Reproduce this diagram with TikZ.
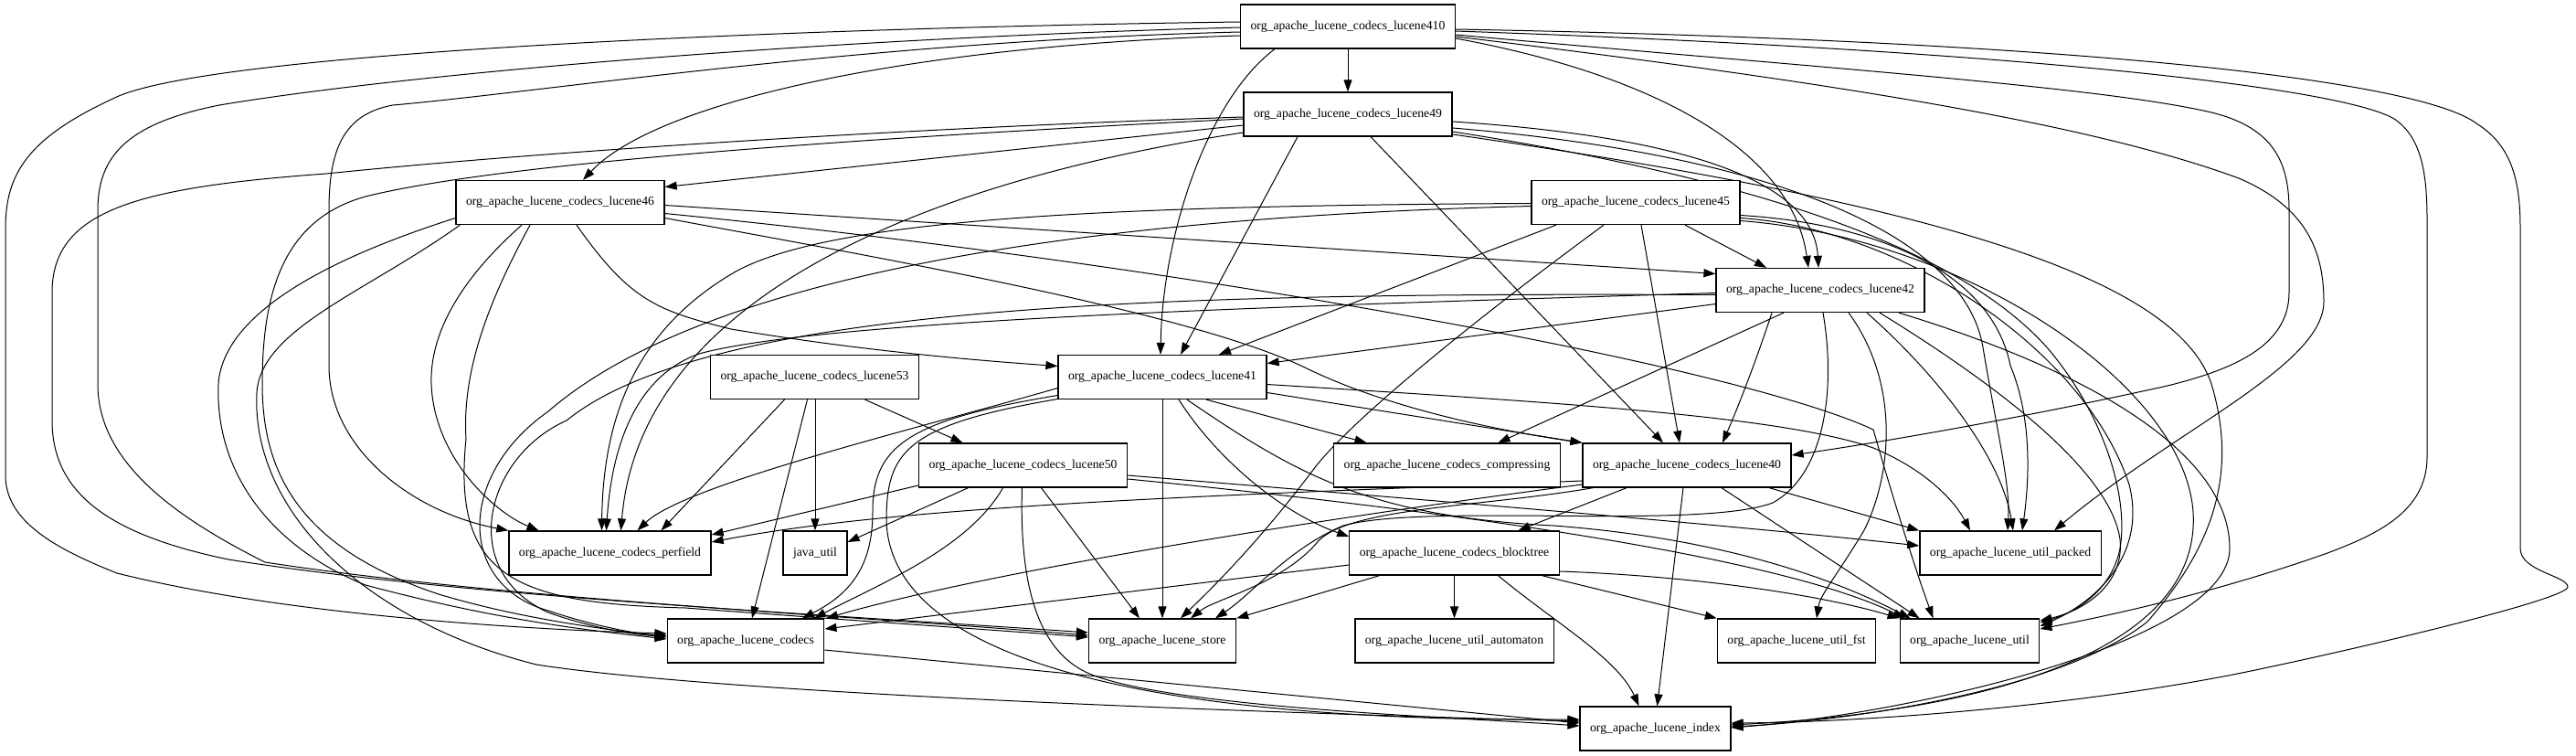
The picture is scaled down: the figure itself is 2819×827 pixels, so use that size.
\documentclass[tikz,border=0pt]{standalone}
\usepackage{fontspec}
\setmainfont{Liberation Serif}
\usetikzlibrary{arrows.meta,calc,backgrounds}
\begin{document}
\begin{tikzpicture}[x=1pt,y=-1pt,
 pkg/.style={draw,line width=1.3pt,fill=white,rectangle,minimum height=48pt,inner xsep=11pt,inner ysep=0pt,font=\fontsize{13.7}{16}\selectfont},
 dep/.style={line width=1pt,-{Triangle[length=13pt,width=9pt]}}]
\useasboundingbox (0,0) rectangle (2819,827);
\node[pkg] (L410) at (1475,29) {org\_apache\_lucene\_codecs\_lucene410};
\node[pkg] (L49) at (1475,125) {org\_apache\_lucene\_codecs\_lucene49};
\node[pkg] (L46) at (613,221.5) {org\_apache\_lucene\_codecs\_lucene46};
\node[pkg] (L45) at (1790,221.5) {org\_apache\_lucene\_codecs\_lucene45};
\node[pkg] (L42) at (1992,317.5) {org\_apache\_lucene\_codecs\_lucene42};
\node[pkg] (L53) at (891.5,412.5) {org\_apache\_lucene\_codecs\_lucene53};
\node[pkg] (L41) at (1272,412.5) {org\_apache\_lucene\_codecs\_lucene41};
\node[pkg] (L50) at (1119.5,509) {org\_apache\_lucene\_codecs\_lucene50};
\node[pkg] (comp) at (1583.5,509) {org\_apache\_lucene\_codecs\_compressing};
\node[pkg] (L40) at (1846,509) {org\_apache\_lucene\_codecs\_lucene40};
\node[pkg] (perf) at (667.5,605) {org\_apache\_lucene\_codecs\_perfield};
\node[pkg] (jutil) at (892,605) {java\_util};
\node[pkg] (btree) at (1591.5,605) {org\_apache\_lucene\_codecs\_blocktree};
\node[pkg] (packed) at (2200,605) {org\_apache\_lucene\_util\_packed};
\node[pkg] (codecs) at (816,701) {org\_apache\_lucene\_codecs};
\node[pkg] (store) at (1272,701) {org\_apache\_lucene\_store};
\node[pkg] (auto) at (1591.5,701) {org\_apache\_lucene\_util\_automaton};
\node[pkg] (fst) at (1966,701) {org\_apache\_lucene\_util\_fst};
\node[pkg] (util) at (2155.5,701) {org\_apache\_lucene\_util};
\node[pkg] (index) at (1811.5,797) {org\_apache\_lucene\_index};
\begin{scope}[on background layer]
% lucene410
\draw[dep] (L410.south) -- (L49.north);
\draw[dep] ($(L410.west)+(0,10)$) .. controls (1000,50) and (720,110) .. ($(L46.north)+(25,0)$);
\draw[dep] ($(L410.south)+(-80,0)$) .. controls (1320,110) and (1272,260) .. ($(L41.north)+(-2,0)$);
\draw[dep] ($(L410.east)+(0,13)$) .. controls (1800,80) and (1960,160) .. ($(L42.north)+(-13,0)$);
\draw[dep] ($(L410.east)+(0,9)$) .. controls (2000,75) and (2300,95) .. (2420,123) .. controls (2490,140) and (2505,180) .. (2505,230) -- (2505,320) .. controls (2505,380) and (2440,405) .. (2372,422) .. controls (2200,460) and (2050,485) .. ($(L40.east)+(0,-11)$);
\draw[dep] ($(L410.east)+(0,11)$) .. controls (2050,95) and (2300,140) .. (2450,195) .. controls (2520,225) and (2543,270) .. (2543,330) .. controls (2543,400) and (2380,470) .. ($(packed.north)+(48,0)$);
\draw[dep] ($(L410.east)+(0,5)$) .. controls (2200,55) and (2560,95) .. (2620,130) .. controls (2650,150) and (2656,190) .. (2656,240) -- (2656,500) .. controls (2656,560) and (2600,585) .. (2547,605) .. controls (2420,650) and (2300,675) .. ($(util.east)+(0,-13)$);
\draw[dep] ($(L410.east)+(0,3)$) .. controls (2300,45) and (2650,90) .. (2710,135) .. controls (2750,160) and (2758,200) .. (2758,250) -- (2758,600) .. controls (2758,625) and (2810,630) .. (2810,642) .. controls (2810,655) and (2600,705) .. (2482,730) .. controls (2300,770) and (2050,790) .. ($(index.east)+(0,-6)$);
\draw[dep] ($(L410.west)+(0,-5)$) .. controls (900,30) and (250,55) .. (130,105) .. controls (30,150) and (6,190) .. (6,250) -- (6,520) .. controls (6,570) and (60,600) .. (128,627) .. controls (300,670) and (550,688) .. ($(codecs.west)+(0,-8)$);
\draw[dep] ($(L410.west)+(0,1)$) .. controls (900,42) and (450,80) .. (240,115) .. controls (140,135) and (107,170) .. (107,230) -- (107,420) .. controls (107,500) and (180,560) .. (290,615) .. controls (550,655) and (950,675) .. ($(store.west)+(0,-6)$);
\draw[dep] ($(L410.west)+(0,6)$) .. controls (950,45) and (600,100) .. (430,115) .. controls (375,125) and (360,165) .. (360,230) -- (360,400) .. controls (360,490) and (450,560) .. (perf.north west);
% lucene49
\draw[dep] ($(L49.west)+(0,12)$) -- ($(L46.east)+(0,-17)$);
\draw[dep] ($(L49.south)+(-55,0)$) -- ($(L41.north)+(20,0)$);
\draw[dep] ($(L49.south)+(25,0)$) -- ($(L40.north)+(-26,0)$);
\draw[dep] ($(L49.east)+(0,8)$) .. controls (1850,150) and (1985,200) .. ($(L42.north)+(-2,0)$);
\draw[dep] ($(L49.west)+(0,3)$) .. controls (1000,140) and (600,165) .. (357,190) .. controls (150,205) and (57,230) .. (57,320) -- (57,460) .. controls (57,540) and (120,585) .. (250,612) .. controls (500,652) and (900,672) .. ($(store.west)+(0,-9)$);
\draw[dep] ($(L49.west)+(0,5)$) .. controls (1000,148) and (560,175) .. (400,215) .. controls (310,240) and (287,320) .. (287,420) .. controls (287,520) and (330,600) .. (480,650) .. controls (580,680) and (680,690) .. ($(codecs.west)+(0,-4)$);
\draw[dep] ($(L49.west)+(0,20)$) .. controls (1000,200) and (700,330) .. ($(perf.north)+(12,0)$);
\draw[dep] ($(L49.east)+(0,15)$) .. controls (1950,170) and (2150,260) .. (2170,380) .. controls (2185,470) and (2200,530) .. ($(packed.north)+(-3,0)$);
\draw[dep] ($(L49.east)+(0,19)$) .. controls (1950,200) and (2150,280) .. (2240,380) .. controls (2300,450) and (2330,540) .. (2320,600) .. controls (2310,650) and (2265,672) .. ($(util.east)+(0,-20)$);
\draw[dep] ($(L49.east)+(0,22)$) .. controls (2100,220) and (2380,300) .. (2420,420) .. controls (2450,520) and (2420,600) .. (2350,680) .. controls (2250,760) and (2000,790) .. ($(index.east)+(0,-2)$);
% lucene46
\draw[dep] ($(L46.east)+(0,3)$) -- ($(L42.west)+(0,-18)$);
\draw[dep] ($(L46.east)+(0,12)$) .. controls (1300,290) and (1900,400) .. (2050,470) .. controls (2070,540) and (2095,620) .. ($(util.north)+(-40,0)$);
\draw[dep] ($(L46.east)+(0,17)$) .. controls (950,280) and (1300,340) .. (1430,403) .. controls (1500,437) and (1600,465) .. (L40.north west);
\draw[dep] ($(L46.south)+(18,0)$) .. controls (690,330) and (720,340) .. (800,360) .. controls (950,385) and (1080,395) .. ($(L41.west)+(0,-12)$);
\draw[dep] ($(L46.west)+(0,17)$) .. controls (400,270) and (245,330) .. (239,420) .. controls (235,520) and (300,600) .. (400,640) .. controls (550,680) and (650,690) .. ($(codecs.west)+(0,-2)$);
\draw[dep] ($(L46.south west)+(5,0)$) .. controls (400,320) and (285,360) .. (281,430) .. controls (275,560) and (400,680) .. (587,727) .. controls (800,760) and (1400,780) .. ($(index.west)+(0,-8)$);
\draw[dep] ($(L46.south)+(-42,0)$) .. controls (510,300) and (470,360) .. (472,420) .. controls (475,500) and (540,560) .. ($(perf.north)+(-78,0)$);
\draw[dep] ($(L46.south)+(-33,0)$) .. controls (540,320) and (505,400) .. (510,480) .. controls (495,630) and (560,660) .. (750,665) .. controls (950,680) and (1100,690) .. ($(store.west)+(0,-4)$);
% lucene45
\draw[dep] ($(L45.south)+(-87,0)$) -- ($(L41.north)+(62,0)$);
\draw[dep] ($(L45.south)+(-35,0)$) .. controls (1600,360) and (1480,460) .. (1440,510) .. controls (1380,590) and (1330,640) .. ($(store.north)+(20,0)$);
\draw[dep] ($(L45.south)+(6,0)$) -- ($(L40.north)+(-8,0)$);
\draw[dep] ($(L45.south)+(54,0)$) -- ($(L42.north)+(-59,0)$);
\draw[dep] ($(L45.west)+(0,1)$) .. controls (1200,225) and (900,240) .. (800,300) .. controls (700,360) and (660,450) .. ($(perf.north)+(-9,0)$);
\draw[dep] ($(L45.west)+(0,4)$) .. controls (1100,240) and (750,320) .. (600,450) .. controls (500,520) and (500,640) .. (600,668) .. controls (650,685) and (700,694) .. ($(codecs.west)+(0,-6)$);
\draw[dep] ($(L45.east)+(0,14)$) .. controls (2060,245) and (2180,300) .. (2200,400) .. controls (2225,460) and (2220,530) .. ($(packed.north)+(13,0)$);
\draw[dep] ($(L45.east)+(0,17)$) .. controls (2080,250) and (2280,380) .. (2330,530) .. controls (2350,610) and (2290,660) .. ($(util.east)+(0,-16)$);
\draw[dep] ($(L45.east)+(0,20)$) .. controls (2150,260) and (2390,420) .. (2400,560) .. controls (2410,720) and (2150,780) .. ($(index.east)+(0,-4)$);
% lucene42
\draw[dep] ($(L42.west)+(0,15)$) -- ($(L41.east)+(0,-15)$);
\draw[dep] ($(L42.south)+(-53,0)$) .. controls (1920,400) and (1900,450) .. ($(L40.north)+(39,0)$);
\draw[dep] ($(L42.south)+(-40,0)$) -- ($(comp.north)+(56,0)$);
\draw[dep] ($(L42.south)+(3,0)$) .. controls (2010,430) and (1995,520) .. (1940,550) .. controls (1860,580) and (1560,550) .. (1470,575) .. controls (1410,600) and (1370,650) .. ($(store.north)+(58,0)$);
\draw[dep] ($(L42.south)+(31,0)$) .. controls (2080,420) and (2070,520) .. (2040,580) .. controls (2010,630) and (1992,650) .. ($(fst.north)+(22,0)$);
\draw[dep] ($(L42.west)+(0,3)$) .. controls (1400,335) and (900,350) .. (765,387) .. controls (700,410) and (670,480) .. ($(perf.north)+(-4,0)$);
\draw[dep] ($(L42.west)+(0,5)$) .. controls (1300,320) and (780,330) .. (620,460) .. controls (530,500) and (500,625) .. (600,670) .. controls (650,688) and (700,695) .. ($(codecs.west)+(0,-5)$);
\draw[dep] ($(L42.south)+(51,0)$) .. controls (2120,410) and (2190,500) .. ($(packed.north)+(3,0)$);
\draw[dep] ($(L42.south)+(65,0)$) .. controls (2200,430) and (2310,520) .. (2320,590) .. controls (2325,640) and (2280,668) .. ($(util.east)+(0,-22)$);
\draw[dep] ($(L42.south)+(86,0)$) .. controls (2300,410) and (2440,500) .. (2440,600) .. controls (2440,700) and (2100,780) .. ($(index.east)+(0,-1)$);
% lucene53
\draw[dep] ($(L53.south)+(55,0)$) -- ($(L50.north)+(-66,0)$);
\draw[dep] ($(L53.south)+(0.5,0)$) -- (jutil.north);
\draw[dep] ($(L53.south)+(-8,0)$) -- ($(codecs.north)+(7,0)$);
\draw[dep] ($(L53.south)+(-33,0)$) -- ($(perf.north)+(56,0)$);
% lucene41
\draw[dep] ($(L41.east)+(0,17)$) -- (L40.north west);
\draw[dep] ($(L41.south)+(48,0)$) -- ($(comp.north)+(-88,0)$);
\draw[dep] ($(L41.south)+(18,0)$) .. controls (1330,500) and (1400,560) .. ($(btree.west)+(0,-18)$);
\draw[dep] (L41.south) -- (store.north);
\draw[dep] ($(L41.south)+(27,0)$) .. controls (1420,520) and (1500,565) .. (1700,575) .. controls (1900,590) and (2020,640) .. ($(util.north west)+(12,0)$);
\draw[dep] ($(L41.east)+(0,8)$) .. controls (1700,440) and (1950,455) .. (2050,490) .. controls (2110,515) and (2140,550) .. ($(packed.north)+(-44,0)$);
\draw[dep] ($(L41.west)+(0,12)$) .. controls (1000,470) and (750,530) .. ($(perf.north)+(30,0)$);
\draw[dep] ($(L41.west)+(0,20)$) .. controls (990,460) and (955,490) .. (955,560) .. controls (955,620) and (930,650) .. ($(codecs.north)+(62,0)$);
\draw[dep] ($(L41.west)+(0,24)$) .. controls (990,465) and (970,495) .. (970,570) .. controls (975,720) and (1250,790) .. ($(index.west)+(0,-10)$);
% lucene50
\draw[dep] ($(L50.south)+(-60,0)$) -- ($(jutil.east)+(0,-12)$);
\draw[dep] ($(L50.south)+(-22,0)$) .. controls (1060,600) and (960,640) .. ($(codecs.north)+(75,0)$);
\draw[dep] ($(L50.south)+(20,0)$) -- ($(store.north)+(-25,0)$);
\draw[dep] ($(L50.south)+(-1,0)$) .. controls (1115,650) and (1140,720) .. (1200,740) .. controls (1300,775) and (1600,785) .. ($(index.west)+(0,-3)$);
\draw[dep] ($(L50.west)+(0,22)$) -- ($(perf.east)+(0,-20)$);
\draw[dep] ($(L50.east)+(0,11)$) .. controls (1600,550) and (1900,575) .. ($(packed.west)+(0,-8)$);
\draw[dep] ($(L50.east)+(0,15)$) .. controls (1600,560) and (1950,610) .. ($(util.north west)+(6,0)$);
% lucene40
\draw[dep] ($(L40.south)+(-66,0)$) -- ($(btree.north)+(70,0)$);
\draw[dep] ($(L40.west)+(0,21)$) .. controls (1500,560) and (1100,620) .. ($(codecs.north)+(88,0)$);
\draw[dep] ($(L40.west)+(0,17)$) .. controls (1400,540) and (1000,550) .. ($(perf.east)+(0,-12)$);
\draw[dep] ($(L40.south west)+(12,0)$) .. controls (1620,555) and (1470,555) .. (1440,595) .. controls (1400,640) and (1330,655) .. ($(store.north)+(31,0)$);
\draw[dep] ($(L40.south)+(90,0)$) -- (packed.north west);
\draw[dep] ($(L40.south)+(38,0)$) -- ($(util.north)+(-55,0)$);
\draw[dep] ($(L40.south)+(-4,0)$) -- ($(index.north)+(2,0)$);
% blocktree
\draw[dep] (btree.south) -- (auto.north);
\draw[dep] ($(btree.west)+(0,13)$) -- ($(codecs.east)+(0,-13)$);
\draw[dep] ($(btree.south)+(-82,0)$) -- (store.north east);
\draw[dep] ($(btree.south)+(96,0)$) -- (fst.north west);
\draw[dep] ($(btree.east)+(0,20)$) .. controls (1850,630) and (1990,650) .. (util.north west);
\draw[dep] ($(btree.south)+(48,0)$) .. controls (1700,680) and (1770,720) .. ($(index.north)+(-18,0)$);
% codecs
\draw[dep] ($(codecs.east)+(0,10)$) -- ($(index.west)+(0,-6)$);
\end{scope}
\end{tikzpicture}
\end{document}
